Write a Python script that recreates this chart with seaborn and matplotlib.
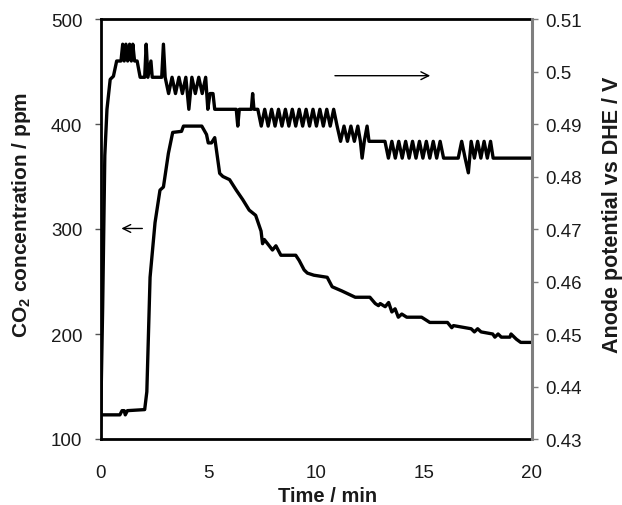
import matplotlib
matplotlib.use("Agg")
import matplotlib.pyplot as plt
import seaborn as sns
import pandas as pd

# ---- data ----
co2_time = [0.0, 0.9, 1.0, 1.1, 1.15, 1.25, 2.05, 2.15, 2.3, 2.53, 2.76, 2.92, 3.15, 3.35,
            3.76, 3.85, 4.7, 4.92, 5.0, 5.15, 5.3, 5.53, 5.68, 5.99, 6.3, 6.6, 6.9, 7.2,
            7.45, 7.52, 7.6, 7.83, 7.98, 8.14, 8.37, 9.06, 9.22, 9.45, 9.6, 9.9, 10.52,
            10.75, 11.2, 11.82, 12.5, 12.75, 12.9, 12.98, 13.21, 13.37, 13.52, 13.67, 13.82,
            13.98, 14.21, 14.9, 15.13, 15.28, 16.1, 16.3, 16.38, 17.2, 17.35, 17.5, 17.66,
            18.2, 18.3, 18.45, 18.6, 19.0, 19.05, 19.3, 19.5, 20.0]
co2_ppm = [123, 123, 127, 127, 123, 127, 128, 145, 254, 306, 337, 340, 372, 392,
           393, 398, 398, 390, 382, 382, 387, 353, 350, 347, 337, 328, 318, 313,
           298, 286, 290, 284, 280, 284, 275, 275, 270, 261, 258, 256, 254,
           245, 241, 235, 235, 229, 227, 229, 226, 230, 221, 224, 216,
           219, 216, 216, 213, 211, 211, 206, 208, 205, 202, 205, 202,
           200, 197, 200, 197, 197, 200, 195, 192, 192]

pot_time = [0.0, 0.1, 0.2, 0.3, 0.45, 0.6, 0.75,
            0.95, 1.03, 1.1, 1.18, 1.26, 1.35, 1.43, 1.5, 1.58, 1.7, 1.84, 2.05, 2.12, 2.2,
            2.34, 2.4, 2.84, 2.92, 3.0,
            3.16, 3.32, 3.48, 3.64, 3.80, 3.96, 4.10, 4.24, 4.40, 4.56, 4.72, 4.88, 4.98,
            5.08, 5.22, 5.30, 6.30, 6.37, 6.44, 7.00, 7.06, 7.12,
            7.30, 7.46, 7.62, 7.78, 7.94, 8.10, 8.26, 8.42, 8.58, 8.74, 8.90, 9.06,
            9.22, 9.38, 9.54, 9.70, 9.86, 10.02, 10.18, 10.34, 10.50, 10.66, 10.82, 10.98,
            11.14, 11.30, 11.46, 11.62, 11.78, 11.94, 12.06, 12.14, 12.24, 12.37, 12.46, 13.20,
            13.36, 13.52, 13.68, 13.84, 14.00, 14.16, 14.32, 14.48, 14.64, 14.80, 14.96,
            15.12, 15.28, 15.44, 15.60, 15.76, 15.92, 16.60,
            16.76, 16.92, 17.07, 17.20, 17.35, 17.50, 17.65, 17.80, 17.95, 18.10, 18.22, 20.0]
pot_volt = [0.432, 0.455, 0.484, 0.4928, 0.4985, 0.4991, 0.5020,
            0.5020, 0.5052, 0.5020, 0.5052, 0.5020, 0.5052, 0.5020, 0.5052, 0.5020, 0.5020,
            0.4989, 0.4989, 0.5052, 0.4989,
            0.5020, 0.4989, 0.4989, 0.5052, 0.4989,
            0.4958, 0.4989, 0.4958, 0.4989, 0.4958, 0.4989, 0.4928, 0.4989, 0.4958, 0.4989,
            0.4958, 0.4989, 0.4928,
            0.4958, 0.4958, 0.4928, 0.4928, 0.4896, 0.4928, 0.4928, 0.4958, 0.4928,
            0.4928, 0.4896, 0.4928, 0.4896, 0.4928, 0.4896, 0.4928, 0.4896, 0.4928, 0.4896, 0.4928, 0.4896,
            0.4928, 0.4896, 0.4928, 0.4896, 0.4928, 0.4896, 0.4928, 0.4896, 0.4928, 0.4896, 0.4928, 0.4896,
            0.4867, 0.4896, 0.4867, 0.4896, 0.4867, 0.4896, 0.4867, 0.4835, 0.4867, 0.4896, 0.4867, 0.4867,
            0.4835, 0.4867, 0.4835, 0.4867, 0.4835, 0.4867, 0.4835, 0.4867, 0.4835, 0.4867, 0.4835,
            0.4867, 0.4835, 0.4867, 0.4835, 0.4867, 0.4835, 0.4835,
            0.4867, 0.4835, 0.4807, 0.4867, 0.4835, 0.4867, 0.4835, 0.4867, 0.4835, 0.4867, 0.4835, 0.4835]

co2_df = pd.DataFrame({"time": co2_time, "co2": co2_ppm})
pot_df = pd.DataFrame({"time": pot_time, "pot": pot_volt})

# ---- style ----
sns.set_style("white")
plt.rcParams["font.family"] = ["Liberation Sans", "DejaVu Sans"]
plt.rcParams["mathtext.fontset"] = "custom"
plt.rcParams["mathtext.rm"] = "Liberation Sans"
plt.rcParams["mathtext.bf"] = "Liberation Sans:bold"

fig = plt.figure(figsize=(6.22, 5.06), dpi=100)
ax = fig.add_axes([100.5 / 622, (506 - 440) / 506, (531.5 - 100.5) / 622, (440 - 20) / 506])
ax2 = ax.twinx()

lw = 2.4
sns.lineplot(data=co2_df, x="time", y="co2", ax=ax, color="black", lw=lw,
             estimator=None, sort=False)
sns.lineplot(data=pot_df, x="time", y="pot", ax=ax2, color="black", lw=lw,
             estimator=None, sort=False)

ax.set_xlim(0, 20)
ax.set_ylim(100, 500)
ax2.set_ylim(0.43, 0.51)
ax.set_xticks([0, 5, 10, 15, 20])
ax.set_yticks([100, 200, 300, 400, 500])
ax2.set_yticks([0.43, 0.44, 0.45, 0.46, 0.47, 0.48, 0.49, 0.50, 0.51])
ax2.set_yticklabels(["0.43", "0.44", "0.45", "0.46", "0.47", "0.48", "0.49", "0.5", "0.51"])

tc = "#1a1a1a"
for a in (ax, ax2):
    a.tick_params(labelsize=13.5, colors=tc, length=4, width=1, direction="out")
ax.tick_params(axis="y", pad=9)
ax.tick_params(axis="x", pad=14)
ax2.tick_params(axis="y", pad=6)
ax.tick_params(axis="both", color="#555555")
ax2.tick_params(axis="y", color="#7f7f7f")

for s in ["left", "bottom", "top"]:
    ax.spines[s].set_color("black")
    ax.spines[s].set_linewidth(2.0)
ax.spines["right"].set_visible(False)
for s in ["left", "bottom", "top"]:
    ax2.spines[s].set_visible(False)
ax2.spines["right"].set_color("#7f7f7f")
ax2.spines["right"].set_linewidth(2.2)

ax.set_xlabel("Time / min", fontsize=14.5, fontweight="bold", color=tc)
ax.set_ylabel(r"CO$_\mathbf{2}$ concentration / ppm", fontsize=15, fontweight="bold",
              color=tc)
ax2.set_ylabel("Anode potential vs DHE / V", fontsize=15.5, fontweight="bold",
               color=tc)
ax.xaxis.set_label_coords(0.527, -0.112)
ax.yaxis.set_label_coords(-0.157, 0.535)
ax2.yaxis.set_label_coords(1.164, 0.535)

# arrows
ax.annotate("", xy=(0.84, 300.5), xytext=(2.07, 300.5),
            arrowprops=dict(arrowstyle="->", color="black", lw=1.0, mutation_scale=14))
ax2.annotate("", xy=(15.43, 0.4992), xytext=(10.75, 0.4992),
             arrowprops=dict(arrowstyle="->", color="black", lw=1.0, mutation_scale=14))

fig.savefig("out.png", dpi=100)
